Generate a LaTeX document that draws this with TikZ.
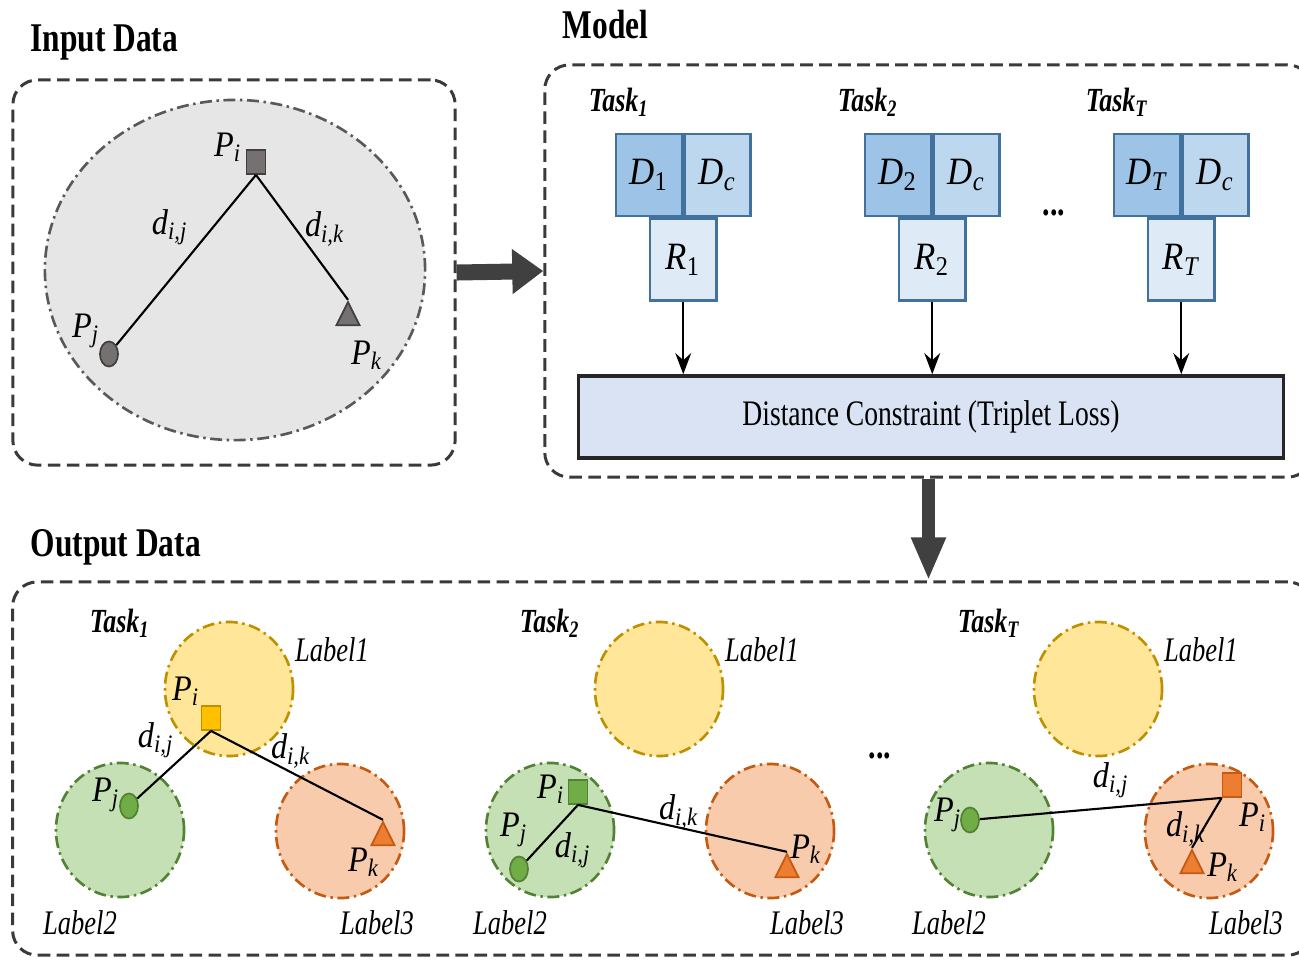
\documentclass[tikz,border=0pt]{standalone}
\usepackage{fontspec}
\setmainfont[FakeStretch=0.77]{Liberation Serif}
\newfontfamily\symfont[FakeStretch=0.9]{Liberation Serif}
\usetikzlibrary{arrows.meta, positioning, shapes.geometric}

\definecolor{framegray}{HTML}{3A3A3A}
\definecolor{arrowgray}{HTML}{404040}
\definecolor{ingray}{HTML}{E7E6E6}
\definecolor{inline}{HTML}{595959}
\definecolor{inmark}{HTML}{767171}
\definecolor{featline}{HTML}{41719C}
\definecolor{dblue}{HTML}{9DC3E6}
\definecolor{cblue}{HTML}{BDD7EE}
\definecolor{rblue}{HTML}{DEEBF7}
\definecolor{distfill}{HTML}{DAE3F3}
\definecolor{yfill}{HTML}{FFE699}
\definecolor{yline}{HTML}{BF9000}
\definecolor{ymark}{HTML}{FFC000}
\definecolor{gfill}{HTML}{C5E0B4}
\definecolor{gline}{HTML}{548235}
\definecolor{gmark}{HTML}{70AD47}
\definecolor{ofill}{HTML}{F8CBAD}
\definecolor{oline}{HTML}{C55A11}
\definecolor{omark}{HTML}{ED7D31}

\newcommand\varlab[2]{{\symfont\itshape #1\textsubscript{#2}}}

\begin{document}
\begin{tikzpicture}[
  x=0.01cm, y=-0.01cm,
  >=Stealth,
  frame box/.style={
    draw=framegray,
    line width=0.85pt,
    dash pattern=on 3.6pt off 1.8pt,
    rounded corners=7pt,
    inner sep=0
  },
  title/.style={anchor=west, inner sep=0, font=\bfseries\fontsize{11.6}{13}\selectfont},
  task/.style={inner sep=0, font=\bfseries\itshape\fontsize{9.6}{11}\selectfont},
  feat box/.style={
    draw=featline,
    line width=0.7pt,
    minimum width=0.66cm,
    minimum height=0.82cm,
    inner sep=0,
    font=\fontsize{11}{13}\selectfont
  },
  thin arrow/.style={-{Stealth[length=6pt, width=4.5pt, inset=2pt]}, line width=0.6pt},
  big arrow/.style={draw=arrowgray, line width=1.6mm},
  dash dotted line/.style={dash pattern=on 3.4pt off 1.3pt on 0.7pt off 1.3pt},
  cluster/.style={
    ellipse,
    dash dotted line,
    line width=0.75pt,
    minimum width=1.28cm,
    minimum height=1.34cm
  },
  sq mark/.style={rectangle, minimum width=0.19cm, minimum height=0.24cm, inner sep=0, line width=0.5pt},
  dot mark/.style={ellipse, minimum width=0.18cm, minimum height=0.25cm, inner sep=0, line width=0.5pt},
  tri mark/.style={
    isosceles triangle,
    isosceles triangle stretches,
    shape border rotate=90,
    minimum width=0.23cm,
    minimum height=0.23cm,
    inner sep=0,
    line width=0.5pt
  },
  sym/.style={inner sep=0, font=\fontsize{10.2}{12}\selectfont},
  cls label/.style={inner sep=0, font=\itshape\fontsize{9.8}{11}\selectfont}
]
\useasboundingbox (0,0) rectangle (1299,959);

% titles and frames
\node[title] (intitle) at (30,42) {Input Data};
\node[title] (modeltitle) at (562,25) {Model};
\node[title] (outtitle) at (30,547) {Output Data};

\node[frame box, minimum width=4.42cm, minimum height=3.85cm] (inframe) at (234,272.5) {};
\node[frame box, minimum width=7.67cm, minimum height=4.12cm] (modelframe) at (928.5,271) {};
\node[frame box, minimum width=12.99cm, minimum height=3.73cm] (outframe) at (662.5,768.5) {};

% input data
\node[ellipse, fill=ingray, draw=inline, dash dotted line, line width=0.75pt,
  minimum width=3.8cm, minimum height=3.4cm] (cloud) at (235,270) {};
\node[sq mark, fill=inmark, draw=arrowgray] (pi) at (256,162) {};
\node[dot mark, fill=inmark, draw=arrowgray] (pj) at (109,354) {};
\node[tri mark, fill=inmark, draw=arrowgray] (pk) at (348,318) {};
\draw[line width=0.6pt] (pi.south) -- (pj);
\draw[line width=0.6pt] (pi.south) -- (pk.apex);
\node[sym] at (228,147) {\varlab{P}{i}};
\node[sym] at (170,227) {\varlab{d}{i,j}};
\node[sym] at (325,229) {\varlab{d}{i,k}};
\node[sym] at (86,331) {\varlab{P}{j}};
\node[sym] at (367,355) {\varlab{P}{k}};

\draw[big arrow, -{Triangle[length=3.1mm, width=4.3mm]}] (inframe.east) -- (modelframe.west);

% model
\node[draw=black!85, line width=1pt, fill=distfill, minimum width=7.05cm, minimum height=0.82cm,
  font=\fontsize{10.2}{12}\selectfont] (dist) at (931,417) {Distance Constraint (Triplet Loss)};
\foreach \x/\n/\s/\ss in {649/1/1/{\upshape 1}, 898/2/2/{\upshape 2}, 1147/3/T/T} {
  \node[task] (mtask\n) at (\x-30,102) {Task\textsubscript{\s}};
  \node[feat box, fill=dblue] (d\n) at (\x,175) {\varlab{D}{\ss}};
  \node[feat box, fill=cblue, right=0pt of d\n] (dc\n) {\varlab{D}{c}};
  \node[feat box, fill=rblue, below=0pt of d\n.south east] (r\n) {\varlab{R}{\ss}};
  \draw[thin arrow] (r\n) -- (r\n |- dist.north);
}
\node[inner sep=0, font=\bfseries\fontsize{11}{12}\selectfont] (mdots) at (1054,213) {...};

\draw[big arrow, -{Triangle[length=4.3mm, width=3.2mm]}, line width=1.3mm]
  (modelframe.south) -- (modelframe.south |- outframe.north);

% output data
\foreach \ox/\n/\s in {0/1/1, 430/2/2, 869/3/T} {
  \node[task] (otask\n) at (120+\ox,623) {Task\textsubscript{\s}};
  \node[cluster, fill=yfill, draw=yline] (ya\n) at (229+\ox,689) {};
  \node[cluster, fill=gfill, draw=gline] (ga\n) at (120+\ox,830) {};
  \node[cluster, fill=ofill, draw=oline] (oa\n) at (340+\ox,831) {};
  \node[cls label] at (332+\ox,650) {Label1};
  \node[cls label] at (80+\ox,923) {Label2};
  \node[cls label] at (377+\ox,923) {Label3};
}
\node[inner sep=0, font=\bfseries\fontsize{11}{12}\selectfont] (odots) at (880,756) {...};

% task 1
\node[sq mark, fill=ymark, draw=yline] (pi1) at (211,718) {};
\node[dot mark, fill=gmark, draw=gline] (pj1) at (129,806) {};
\node[tri mark, fill=omark, draw=oline] (pk1) at (383,838) {};
\draw[line width=0.6pt] (pi1.south) -- (pj1);
\draw[line width=0.6pt] (pi1.south) -- (pk1.apex);
\node[sym] at (186,691) {\varlab{P}{i}};
\node[sym] at (156,740) {\varlab{d}{i,j}};
\node[sym] at (291,751) {\varlab{d}{i,k}};
\node[sym] at (106,795) {\varlab{P}{j}};
\node[sym] at (364,862) {\varlab{P}{k}};

% task 2
\node[sq mark, fill=gmark, draw=gline] (pi2) at (578,792) {};
\node[dot mark, fill=gmark, draw=gline] (pj2) at (519,869) {};
\node[tri mark, fill=omark, draw=oline] (pk2) at (787,870) {};
\draw[line width=0.6pt] (pi2.south) -- (pj2);
\draw[line width=0.6pt] (pi2.south) -- (pk2.apex);
\node[sym] at (551,789) {\varlab{P}{i}};
\node[sym] at (514,830) {\varlab{P}{j}};
\node[sym] at (573,850) {\varlab{d}{i,j}};
\node[sym] at (679,812) {\varlab{d}{i,k}};
\node[sym] at (806,849) {\varlab{P}{k}};

% task T
\node[sq mark, fill=omark, draw=oline] (pi3) at (1232,785) {};
\node[dot mark, fill=gmark, draw=gline] (pj3) at (970,820) {};
\node[tri mark, fill=omark, draw=oline] (pk3) at (1192,866) {};
\draw[line width=0.6pt] (pj3) -- (pi3.south west);
\draw[line width=0.6pt] (pi3.south west) -- (pk3.apex);
\node[sym] at (1111,780) {\varlab{d}{i,j}};
\node[sym] at (948,815) {\varlab{P}{j}};
\node[sym] at (1186,829) {\varlab{d}{i,k}};
\node[sym] at (1253,817) {\varlab{P}{i}};
\node[sym] at (1223,867) {\varlab{P}{k}};

\end{tikzpicture}
\end{document}
